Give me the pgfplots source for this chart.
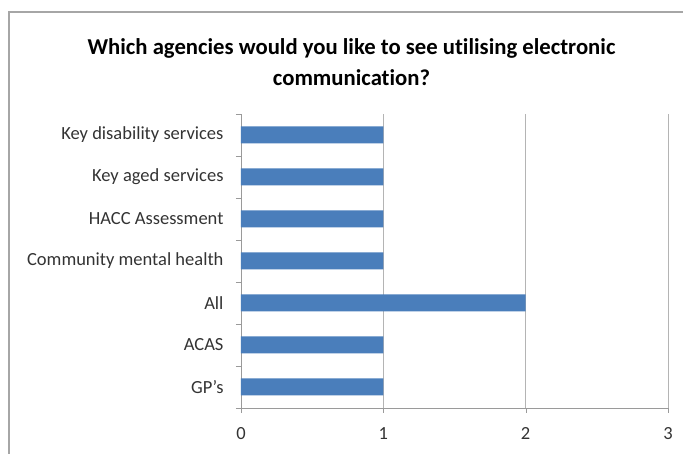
\documentclass[border=0pt]{standalone}
\usepackage{pgfplots}
\pgfplotsset{compat=1.18}
\usepackage{fontspec}
\setmainfont[Ligatures=NoCommon]{Carlito}
\definecolor{barblue}{HTML}{4A7EBB}
\definecolor{axgray}{HTML}{9A9A9A}
\definecolor{gridgray}{HTML}{B4B4B4}
\begin{document}
\begin{tikzpicture}[x=1pt,y=1pt]
\useasboundingbox (0,0) rectangle (683,454);
\draw[gray!70, line width=1.5pt] (9,-10) -- (9,442) -- (690,442);
\node[font=\fontsize{22.7}{31}\selectfont\bfseries, align=center] at (351.5,392) {Which agencies would you like to see utilising electronic\\communication?};
\begin{axis}[at={(241pt,46pt)}, anchor=south west, scale only axis,
  width=427pt, height=294pt,
  xmin=0, xmax=3, ymin=-0.5, ymax=6.5,
  axis lines*=left,
  axis line style={axgray, line width=0.9pt},
  xbar, bar width=17pt,
  xtick={0,1,2,3},
  xmajorgrids, major grid style={gridgray, line width=0.8pt},
  ytick={0,...,6},
  yticklabels={GP's, ACAS, All, Community mental health, HACC Assessment, Key aged services, Key disability services},
  minor ytick={-0.5,0.5,...,6.5},
  major y tick style={draw=none},
  minor y tick style={axgray},
  x tick style={axgray},
  tick align=outside,
  major tick length=5pt, minor tick length=5pt,
  /pgf/number format/assume math mode=true,
  ticklabel style={font=\fontsize{18.5}{22}\selectfont, text=black!80},
  xticklabel style={yshift=-11pt},
  yticklabel style={xshift=-9pt},
]
\addplot[fill=barblue, draw=none] coordinates {(1,0) (1,1) (2,2) (1,3) (1,4) (1,5) (1,6)};
\end{axis}
\end{tikzpicture}
\end{document}
